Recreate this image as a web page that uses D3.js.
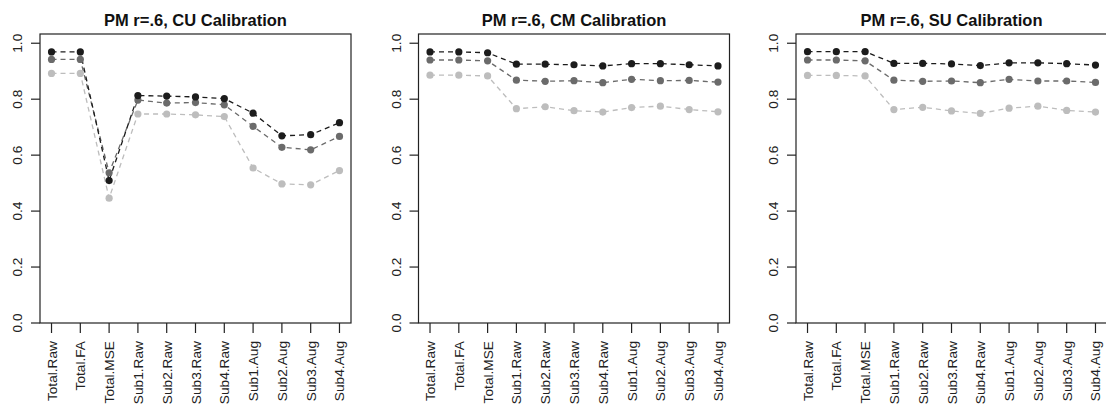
<!DOCTYPE html>
<html>
<head>
<meta charset="utf-8">
<script src="https://cdn.jsdelivr.net/npm/d3@7"></script>
<style>
  body { margin: 0; background: #fff; }
  svg { display: block; font-family: "Liberation Sans", Arial, sans-serif; }
</style>
</head>
<body>
<svg id="chart" width="1106" height="409"></svg>
<script>
const categories = ['Total.Raw', 'Total.FA', 'Total.MSE', 'Sub1.Raw', 'Sub2.Raw', 'Sub3.Raw',
  'Sub4.Raw', 'Sub1.Aug', 'Sub2.Aug', 'Sub3.Aug', 'Sub4.Aug'];
const yTicks = [0, 0.2, 0.4, 0.6, 0.8, 1.0];
const titles = ['PM r=.6, CU Calibration', 'PM r=.6, CM Calibration', 'PM r=.6, SU Calibration'];

// one array per series per panel (dark, mid, light)
const cuDark  = [0.969, 0.969, 0.509, 0.813, 0.811, 0.808, 0.802, 0.750, 0.669, 0.673, 0.716];
const cuMid   = [0.942, 0.942, 0.537, 0.797, 0.786, 0.788, 0.780, 0.703, 0.628, 0.619, 0.667];
const cuLight = [0.892, 0.892, 0.446, 0.747, 0.747, 0.744, 0.738, 0.554, 0.497, 0.494, 0.545];

const cmDark  = [0.969, 0.969, 0.966, 0.925, 0.925, 0.923, 0.919, 0.927, 0.927, 0.923, 0.919];
const cmMid   = [0.940, 0.940, 0.937, 0.868, 0.864, 0.866, 0.859, 0.871, 0.866, 0.867, 0.861];
const cmLight = [0.886, 0.886, 0.883, 0.766, 0.773, 0.759, 0.754, 0.770, 0.775, 0.763, 0.755];

const suDark  = [0.970, 0.970, 0.970, 0.928, 0.928, 0.926, 0.920, 0.930, 0.930, 0.927, 0.922];
const suMid   = [0.940, 0.940, 0.937, 0.868, 0.864, 0.865, 0.859, 0.871, 0.865, 0.865, 0.860];
const suLight = [0.885, 0.885, 0.883, 0.763, 0.771, 0.758, 0.749, 0.768, 0.775, 0.760, 0.754];

const panels = [
  [cuDark, cuMid, cuLight],
  [cmDark, cmMid, cmLight],
  [suDark, suMid, suLight]
];
const seriesColors = ['#1c1c1c', '#6b6b6b', '#bdbdbd'];

const svg = d3.select('#chart');
const panelLefts = [40, 418.5, 796];
const boxW = 311;
const boxTop = 34, boxBottom = 323;

const y = d3.scaleLinear().domain([0, 1.033]).range([boxBottom, boxTop]);

panelLefts.forEach((left, p) => {
  const g = svg.append('g').attr('transform', `translate(${left},0)`);
  const x = d3.scaleLinear().domain([0.6, 11.4]).range([0, boxW]);

  // lines (light drawn first so dark stays on top)
  const line = d3.line().x((d, i) => x(i + 1)).y(d => y(d));
  const order = [2, 1, 0];
  order.forEach(s => {
    g.append('path')
      .datum(panels[p][s])
      .attr('d', line)
      .attr('fill', 'none')
      .attr('stroke', seriesColors[s])
      .attr('stroke-width', 1.3)
      .attr('stroke-dasharray', '5,4');
  });
  order.forEach(s => {
    g.selectAll(null)
      .data(panels[p][s])
      .enter().append('circle')
      .attr('cx', (d, i) => x(i + 1))
      .attr('cy', d => y(d))
      .attr('r', 3.6)
      .attr('fill', seriesColors[s]);
  });

  // box
  g.append('rect')
    .attr('x', 0).attr('y', boxTop)
    .attr('width', boxW).attr('height', boxBottom - boxTop)
    .attr('fill', 'none')
    .attr('stroke', '#222')
    .attr('stroke-width', 1.2);

  // y axis
  g.selectAll(null)
    .data(yTicks)
    .enter().append('line')
    .attr('x1', -9).attr('x2', 0)
    .attr('y1', d => y(d)).attr('y2', d => y(d))
    .attr('stroke', '#222').attr('stroke-width', 1.2);
  g.selectAll(null)
    .data(yTicks)
    .enter().append('text')
    .attr('transform', d => `translate(-18,${y(d)}) rotate(-90)`)
    .attr('text-anchor', 'middle')
    .style('font-size', '13.7px')
    .style('fill', '#222')
    .text(d => d.toFixed(1));

  // x axis
  g.selectAll(null)
    .data(categories)
    .enter().append('line')
    .attr('x1', (d, i) => x(i + 1)).attr('x2', (d, i) => x(i + 1))
    .attr('y1', boxBottom).attr('y2', boxBottom + 10)
    .attr('stroke', '#222').attr('stroke-width', 1.2);
  g.selectAll(null)
    .data(categories)
    .enter().append('text')
    .attr('transform', (d, i) => `translate(${x(i + 1) + 5},${boxBottom + 18}) rotate(-90)`)
    .attr('text-anchor', 'end')
    .style('font-size', '13.7px')
    .style('fill', '#222')
    .text(d => d);

  // title
  g.append('text')
    .attr('x', boxW / 2).attr('y', 26)
    .attr('text-anchor', 'middle')
    .style('font-size', '16.5px')
    .style('font-weight', 'bold')
    .style('fill', '#111')
    .text(titles[p]);
});
</script>
</body>
</html>
